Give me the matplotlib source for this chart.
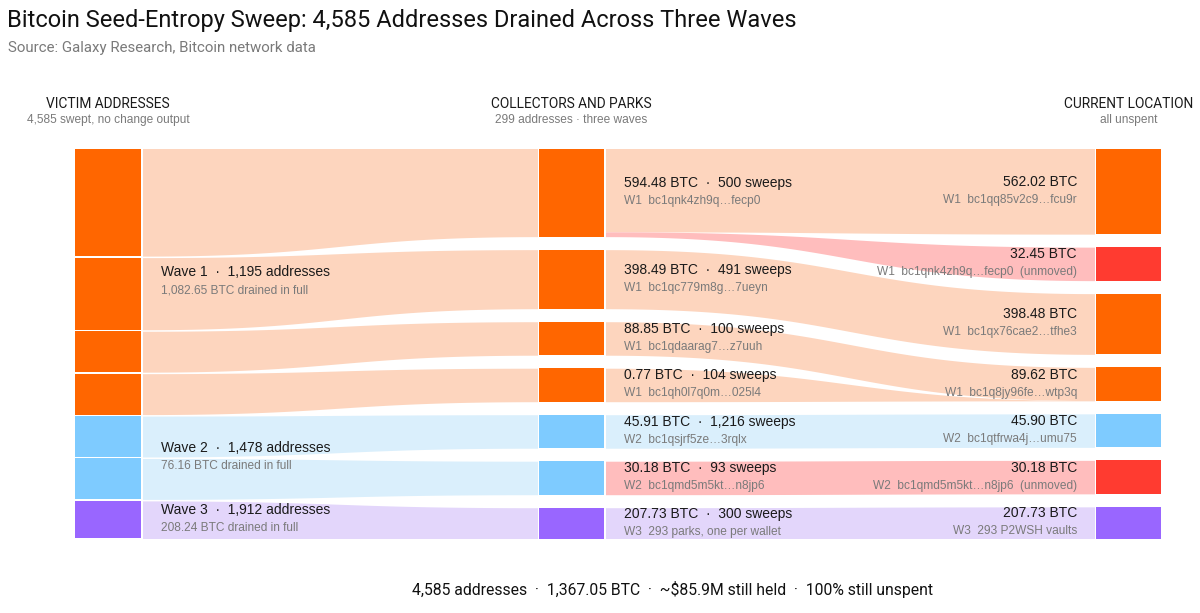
import numpy as np
import matplotlib
matplotlib.use('Agg')
import matplotlib.pyplot as plt

# ---- data ----
waves = ['Wave 1', 'Wave 2', 'Wave 3']
wave_addresses = [1195, 1478, 1912]
wave_btc = [1082.65, 76.16, 208.24]

collector_btc = [594.48, 398.49, 88.85, 0.77, 45.91, 30.18, 207.73]
collector_sweeps = [500, 491, 100, 104, 1216, 93, 300]
collector_wave = [0, 0, 0, 0, 1, 1, 2]
collector_addr = ['bc1qnk4zh9q…fecp0', 'bc1qc779m8g…7ueyn', 'bc1qdaarag7…z7uuh',
                  'bc1qh0l7q0m…025l4', 'bc1qsjrf5ze…3rqlx', 'bc1qmd5m5kt…n8jp6',
                  '293 parks, one per wallet']

location_btc = [562.02, 32.45, 398.48, 89.62, 45.90, 30.18, 207.73]
location_wave = [0, 0, 0, 0, 1, 1, 2]
location_unmoved = [False, True, False, False, False, True, False]
location_addr = ['bc1qq85v2c9…fcu9r', 'bc1qnk4zh9q…fecp0', 'bc1qx76cae2…tfhe3',
                 'bc1q8jy96fe…wtp3q', 'bc1qtfrwa4j…umu75', 'bc1qmd5m5kt…n8jp6',
                 '293 P2WSH vaults']

# collector index -> location index, BTC
link_src = [0, 0, 1, 2, 3, 4, 5, 6]
link_tgt = [0, 1, 2, 3, 3, 4, 5, 6]
link_btc = [562.02, 32.45, 398.48, 88.85, 0.77, 45.90, 30.18, 207.73]

title = 'Bitcoin Seed-Entropy Sweep: 4,585 Addresses Drained Across Three Waves'
subtitle = 'Source: Galaxy Research, Bitcoin network data'
footer = '4,585 addresses  ·  1,367.05 BTC  ·  ~$85.9M still held  ·  100% still unspent'

# ---- style ----
node_col = ['#FF6600', '#7ECBFF', '#9966FF']
flow_col = ['#FDD5BE', '#DAEFFC', '#E3D6FB']
red_node = '#FF3B30'
red_flow = '#FFBDBD'
dark = '#1a1a1a'
gray = '#7a7a7a'
head_font = 'Roboto'
lab_font = 'Liberation Sans'

TOP, BOT = 148.5, 538.5
XL = (75, 141)
XM = (539, 604)
XR = (1096, 1161)


def layout(values, gap, hmin, small=100):
    n = len(values)
    avail = BOT - TOP - gap * (n - 1)
    big = sum(v for v in values if v >= small)
    nsmall = sum(1 for v in values if v < small)
    k = (avail - hmin * nsmall) / big
    h = [hmin if v < small else v * k for v in values]
    tops = []
    y = TOP
    for hh in h:
        tops.append(y)
        y += hh + gap
    return np.array(tops), np.array(h)


mid_top, mid_h = layout(collector_btc, 13, 33.5)
rgt_top, rgt_h = layout(location_btc, 13, 33.5)

# victim segments: scaled from collector heights, thin gaps
lgap = 1.5
lscale = (BOT - TOP - lgap * (len(mid_h) - 1)) / mid_h.sum()
lft_h = mid_h * lscale
lft_top = TOP + np.concatenate([[0], np.cumsum(lft_h + lgap)[:-1]])

fig = plt.figure(figsize=(12, 6.13), dpi=100)
ax = fig.add_axes([0, 0, 1, 1])
ax.set_xlim(0, 1200)
ax.set_ylim(613, 0)
ax.axis('off')

u = np.linspace(0, 1, 200)


def band(x0, x1, a0, b0, a1, b1, color):
    xm = (x0 + x1) / 2
    xs = (1 - u) ** 3 * x0 + 3 * (1 - u) ** 2 * u * xm + 3 * (1 - u) * u ** 2 * xm + u ** 3 * x1
    s = 3 * u ** 2 - 2 * u ** 3
    ax.fill_between(xs, a0 + (a1 - a0) * s, b0 + (b1 - b0) * s, color=color, lw=0)


# victim -> collector flows
for i in range(len(collector_btc)):
    band(XL[1] + 1.5, XM[0] - 1.5, lft_top[i], lft_top[i] + lft_h[i],
         mid_top[i], mid_top[i] + mid_h[i], flow_col[collector_wave[i]])

# collector -> location flows
src_off = mid_top.copy()
tgt_off = rgt_top.copy()
src_tot = np.zeros(len(collector_btc))
tgt_tot = np.zeros(len(location_btc))
for s_, t_, v in zip(link_src, link_tgt, link_btc):
    src_tot[s_] += v
    tgt_tot[t_] += v
for s_, t_, v in zip(link_src, link_tgt, link_btc):
    ws = v / src_tot[s_] * mid_h[s_]
    wt = v / tgt_tot[t_] * rgt_h[t_]
    col = red_flow if location_unmoved[t_] else flow_col[location_wave[t_]]
    band(XM[1] + 1.5, XR[0] - 1.5, src_off[s_], src_off[s_] + ws,
         tgt_off[t_], tgt_off[t_] + wt, col)
    src_off[s_] += ws
    tgt_off[t_] += wt

# nodes
for i in range(len(lft_h)):
    ax.bar(XL[0], lft_h[i], width=XL[1] - XL[0], bottom=lft_top[i], align='edge',
           color=node_col[collector_wave[i]], lw=0)
for i in range(len(mid_h)):
    ax.bar(XM[0], mid_h[i], width=XM[1] - XM[0], bottom=mid_top[i], align='edge',
           color=node_col[collector_wave[i]], lw=0)
for i in range(len(rgt_h)):
    c = red_node if location_unmoved[i] else node_col[location_wave[i]]
    ax.bar(XR[0], rgt_h[i], width=XR[1] - XR[0], bottom=rgt_top[i], align='edge',
           color=c, lw=0)

# wave labels
for w in range(len(waves)):
    idx = [i for i in range(len(collector_wave)) if collector_wave[i] == w]
    y0 = lft_top[idx[0]]
    y1 = lft_top[idx[-1]] + lft_h[idx[-1]]
    yc = (y0 + y1) / 2
    ax.text(161, yc - 9.5, f'{waves[w]}  ·  {wave_addresses[w]:,} addresses', fontsize=10,
            family=lab_font, color=dark, va='center', ha='left')
    ax.text(161, yc + 8.5, f'{wave_btc[w]:,.2f} BTC drained in full', fontsize=8.6,
            family=lab_font, color=gray, va='center', ha='left')

# collector labels
for i in range(len(collector_btc)):
    yc = mid_top[i] + mid_h[i] / 2
    ax.text(624, yc - 9.5, f'{collector_btc[i]:.2f} BTC  ·  {collector_sweeps[i]:,} sweeps',
            fontsize=10, family=lab_font, color=dark, va='center', ha='left')
    ax.text(624, yc + 8.5, f'W{collector_wave[i] + 1}  {collector_addr[i]}', fontsize=8.6,
            family=lab_font, color=gray, va='center', ha='left')

# location labels
for i in range(len(location_btc)):
    yc = rgt_top[i] + rgt_h[i] / 2
    ax.text(1077, yc - 9.5, f'{location_btc[i]:.2f} BTC', fontsize=10, family=lab_font,
            color=dark, va='center', ha='right')
    extra = '  (unmoved)' if location_unmoved[i] else ''
    ax.text(1077, yc + 8.5, f'W{location_wave[i] + 1}  {location_addr[i]}{extra}',
            fontsize=8.6, family=lab_font, color=gray, va='center', ha='right')

# column headers
heads = [('VICTIM ADDRESSES', '4,585 swept, no change output', sum(XL) / 2),
         ('COLLECTORS AND PARKS', '299 addresses · three waves', sum(XM) / 2),
         ('CURRENT LOCATION', 'all unspent', sum(XR) / 2)]
for h1, h2, xc in heads:
    ax.text(xc, 104, h1, fontsize=9.9, family=head_font, color=dark, ha='center', va='center')
    ax.text(xc, 120, h2, fontsize=8.6, family=lab_font, color=gray, ha='center', va='center')

ax.text(7, 20, title, fontsize=17, family=head_font, color='#111111', ha='left', va='center')
ax.text(8, 48, subtitle, fontsize=10.8, family=head_font, color=gray, ha='left', va='center')
ax.text(672, 590, footer, fontsize=11.3, family=head_font, color='#111111', ha='center', va='center')

fig.savefig('out.png', dpi=100, facecolor='white')
